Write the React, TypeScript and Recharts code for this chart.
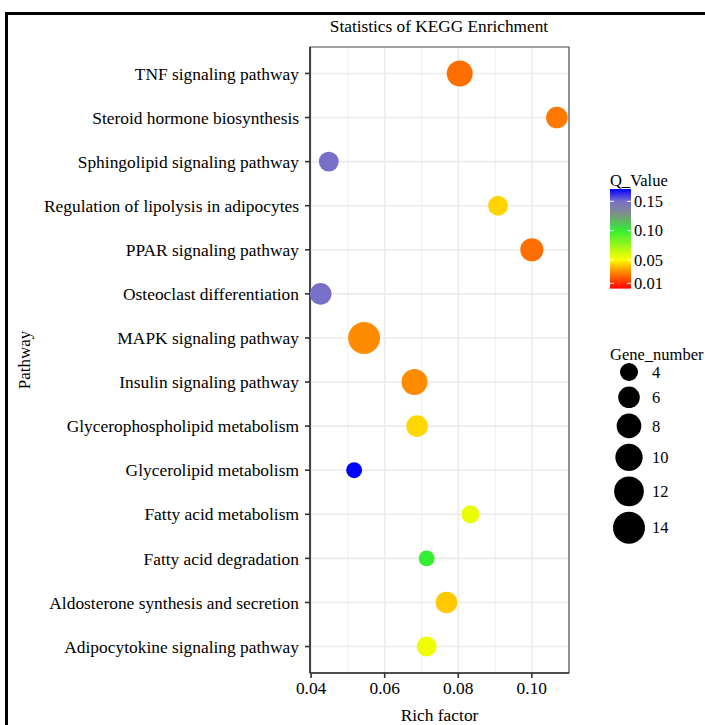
import * as React from 'react';
import { ScatterChart, Scatter, XAxis, YAxis, CartesianGrid, ReferenceArea } from 'recharts';

// bottom -> top, as ggplot orders a discrete y axis
const pathways = [
  'Adipocytokine signaling pathway',
  'Aldosterone synthesis and secretion',
  'Fatty acid degradation',
  'Fatty acid metabolism',
  'Glycerolipid metabolism',
  'Glycerophospholipid metabolism',
  'Insulin signaling pathway',
  'MAPK signaling pathway',
  'Osteoclast differentiation',
  'PPAR signaling pathway',
  'Regulation of lipolysis in adipocytes',
  'Sphingolipid signaling pathway',
  'Steroid hormone biosynthesis',
  'TNF signaling pathway',
];
const richFactor = [0.0714, 0.0768, 0.0714, 0.0833, 0.0517, 0.0688, 0.0681, 0.0544, 0.0426, 0.1, 0.0908, 0.0448, 0.1068, 0.0804];
const geneNumber = [5, 6, 3, 4, 3, 6, 9, 14, 6, 7, 5, 5, 6, 9];
const qValue = [0.0537, 0.0404, 0.1, 0.0556, 0.171, 0.043, 0.03, 0.03, 0.15, 0.024, 0.0425, 0.15, 0.0259, 0.024];

const xTicks = [0.04, 0.06, 0.08, 0.1];
const xMinorTicks = [0.05, 0.07, 0.09];
const qTicks = [0.15, 0.1, 0.05, 0.01];
const geneTicks = [4, 6, 8, 10, 12, 14];

const X_DOMAIN: [number, number] = [0.0397, 0.1101];
const Y_DOMAIN: [number, number] = [0.4, 14.6];
const Q_RANGE: [number, number] = [0.001, 0.171];
const FONT = '"Liberation Serif", "Times New Roman", serif';

const Q_STOPS: [number, string][] = [
  [0.001, '#FF0000'],
  [0.03, '#FF8C00'],
  [0.05, '#FFFF00'],
  [0.1, '#33EE33'],
  [0.13, '#808C8C'],
  [0.15, '#7870C8'],
  [0.171, '#0000FF'],
];

const hex = (c: string) => [1, 3, 5].map((i) => parseInt(c.slice(i, i + 2), 16));

const qColor = (q: number) => {
  for (let i = 0; i < Q_STOPS.length - 1; i++) {
    const [q0, c0] = Q_STOPS[i];
    const [q1, c1] = Q_STOPS[i + 1];
    if (q <= q1 || i === Q_STOPS.length - 2) {
      const t = Math.max(0, Math.min(1, (q - q0) / (q1 - q0)));
      const a = hex(c0);
      const b = hex(c1);
      const rgb = a.map((v, k) => Math.round(v + (b[k] - v) * t));
      return `rgb(${rgb.join(',')})`;
    }
  }
  return Q_STOPS[0][1];
};

// point diameter, linear in sqrt(gene number) like scale_size
const dotDiameter = (n: number) => 18 + 8 * (Math.sqrt(n) - 2);

const points = pathways.map((p, i) => ({
  pathway: p,
  idx: i + 1,
  rich: richFactor[i],
  genes: geneNumber[i],
  q: qValue[i],
}));

const Dot = (props: any) => (
  <circle cx={props.cx} cy={props.cy} r={dotDiameter(props.payload.genes) / 2} fill={qColor(props.payload.q)} />
);

const minorGrid = ({ offset }: any) =>
  xMinorTicks.map((v) => offset.left + ((v - X_DOMAIN[0]) / (X_DOMAIN[1] - X_DOMAIN[0])) * offset.width);

const Legends = () => {
  const barX = 610;
  const barTop = 189;
  const pxPerQ = 586;
  const barH = (Q_RANGE[1] - Q_RANGE[0]) * pxPerQ;
  const qY = (q: number) => barTop + (Q_RANGE[1] - q) * pxPerQ;

  let y = 372;
  const keys = geneTicks.map((g, i) => {
    if (i > 0) y += dotDiameter(geneTicks[i - 1]) / 2 + dotDiameter(g) / 2 + 5.5;
    return { g, y };
  });

  return (
    <svg width={705} height={725} style={{ position: 'absolute', left: 0, top: 0, pointerEvents: 'none' }}>
      <defs>
        <linearGradient id="qbar" x1="0" y1="0" x2="0" y2="1">
          {Q_STOPS.slice().reverse().map(([q, c]) => (
            <stop key={q} offset={(Q_RANGE[1] - q) / (Q_RANGE[1] - Q_RANGE[0])} stopColor={c} />
          ))}
        </linearGradient>
      </defs>
      <text x={439} y={32} textAnchor="middle" fontFamily={FONT} fontSize={17.3} fill="#000">
        Statistics of KEGG Enrichment
      </text>
      <text
        x={0}
        y={0}
        transform="translate(30,360) rotate(-90)"
        textAnchor="middle"
        fontFamily={FONT}
        fontSize={17}
        fill="#000"
      >
        Pathway
      </text>

      <text x={barX} y={186} fontFamily={FONT} fontSize={16.5} fill="#000">
        Q_Value
      </text>
      <rect x={barX} y={barTop} width={21} height={barH} fill="url(#qbar)" />
      {qTicks.map((q) => (
        <g key={q}>
          <line x1={barX} x2={barX + 4} y1={qY(q)} y2={qY(q)} stroke="#fff" strokeWidth={1} />
          <line x1={barX + 17} x2={barX + 21} y1={qY(q)} y2={qY(q)} stroke="#fff" strokeWidth={1} />
          <text x={barX + 24} y={qY(q)} dy="0.35em" fontFamily={FONT} fontSize={16.5} fill="#000">
            {q.toFixed(2)}
          </text>
        </g>
      ))}

      <text x={barX} y={360} fontFamily={FONT} fontSize={16.5} fill="#000">
        Gene_number
      </text>
      {keys.map(({ g, y }) => (
        <g key={g}>
          <circle cx={629} cy={y} r={dotDiameter(g) / 2} fill="#000" />
          <text x={652} y={y} dy="0.35em" fontFamily={FONT} fontSize={16.5} fill="#000">
            {g}
          </text>
        </g>
      ))}
    </svg>
  );
};

export default function App() {
  const axisTick = { fill: '#000', fontSize: 17.4, fontFamily: FONT };
  return (
    <div
      style={{
        position: 'absolute',
        left: 0,
        top: 0,
        width: 705,
        height: 725,
        overflow: 'hidden',
        background: '#fff',
      }}
    >
      <div
        style={{
          position: 'absolute',
          left: 5,
          top: 12,
          width: 900,
          height: 900,
          borderTop: '3px solid #000',
          borderLeft: '3px solid #000',
        }}
      />
      <ScatterChart width={705} height={725} margin={{ top: 47, right: 136, bottom: 2, left: 0 }}>
        <CartesianGrid stroke="#EBEBEB" strokeWidth={1.6} />
        <CartesianGrid stroke="#EBEBEB" strokeWidth={0.8} horizontal={false} verticalCoordinatesGenerator={minorGrid} />
        <XAxis
          type="number"
          dataKey="rich"
          domain={X_DOMAIN}
          allowDataOverflow
          ticks={xTicks}
          tickFormatter={(v: number) => v.toFixed(2)}
          height={50}
          tick={axisTick}
          tickSize={5}
          tickMargin={4}
          axisLine={{ stroke: '#333', strokeWidth: 1.6 }}
          tickLine={{ stroke: '#333', strokeWidth: 1.6 }}
          label={{ value: 'Rich factor', position: 'insideBottom', offset: 2, fill: '#000', fontSize: 17.4, fontFamily: FONT }}
        />
        <YAxis
          type="number"
          dataKey="idx"
          domain={Y_DOMAIN}
          allowDataOverflow
          ticks={pathways.map((_, i) => i + 1)}
          tickFormatter={(v: number) => pathways[v - 1]}
          interval={0}
          width={310}
          tick={axisTick}
          tickSize={5}
          tickMargin={6}
          axisLine={{ stroke: '#333', strokeWidth: 1.6 }}
          tickLine={{ stroke: '#333', strokeWidth: 1.6 }}
        />
        <ReferenceArea
          x1={X_DOMAIN[0]}
          x2={X_DOMAIN[1]}
          y1={Y_DOMAIN[0]}
          y2={Y_DOMAIN[1]}
          fill="none"
          stroke="#555"
          strokeWidth={1.2}
        />
        <Scatter data={points} shape={Dot} isAnimationActive={false} />
      </ScatterChart>
      <Legends />
    </div>
  );
}
